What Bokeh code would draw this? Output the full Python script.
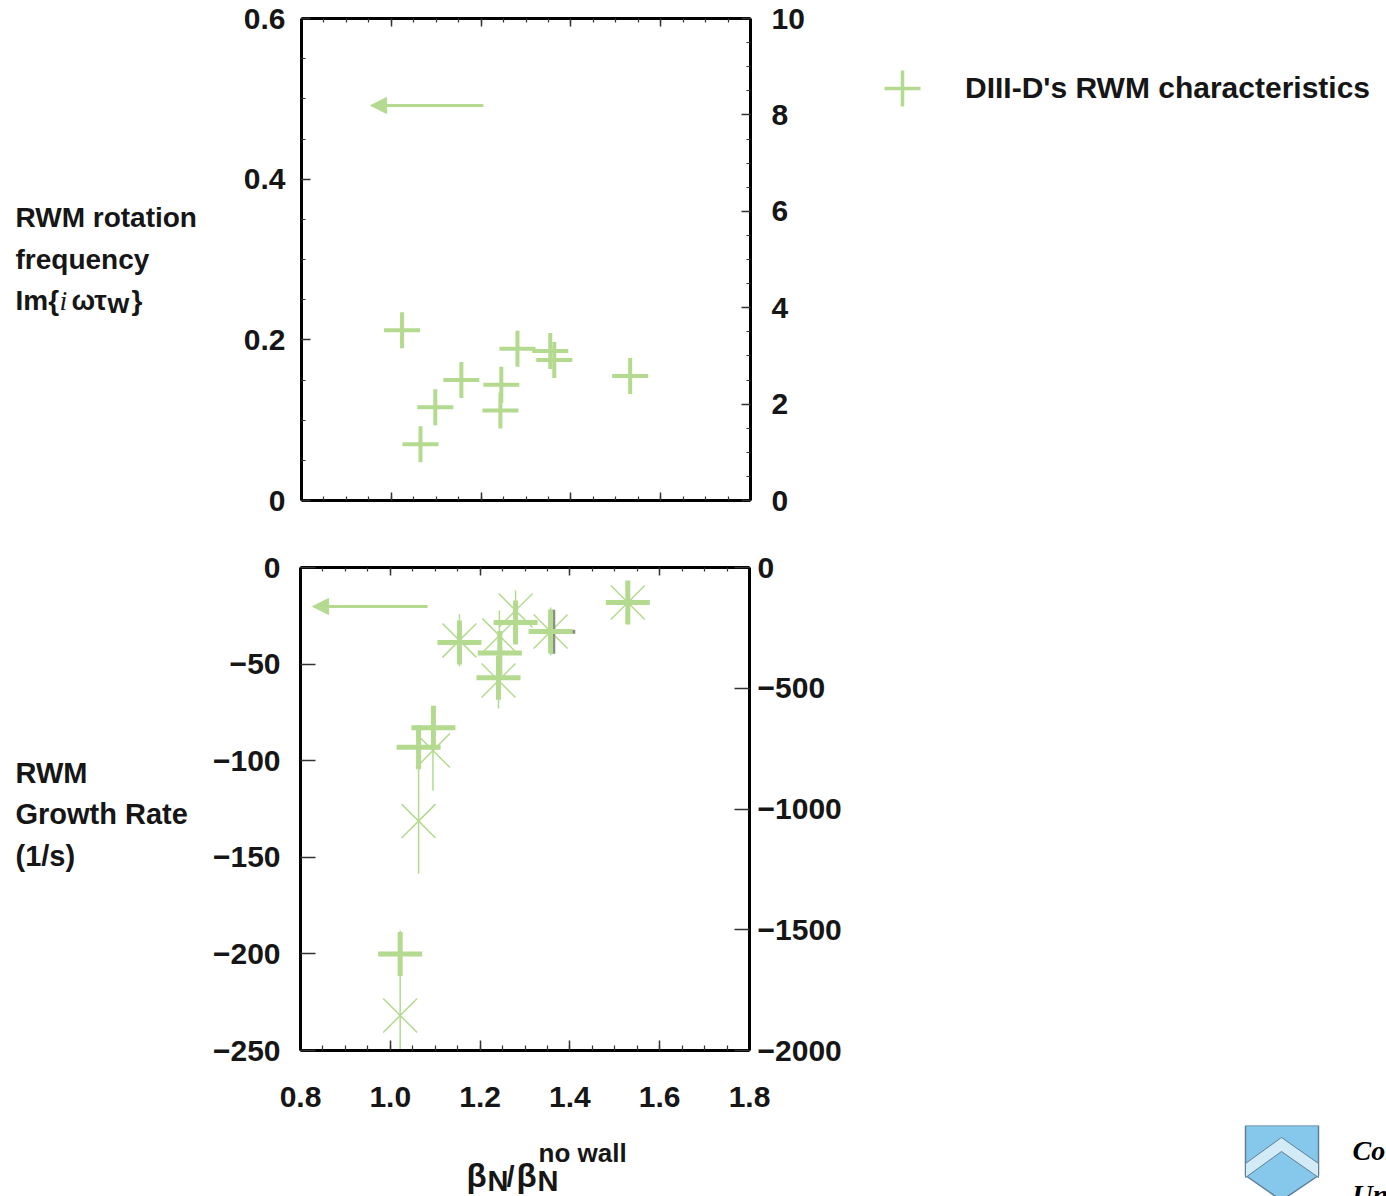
from bokeh.plotting import figure
from bokeh.models import (LinearAxis, Range1d, FixedTicker, Legend, LegendItem,
                          Arrow, NormalHead, CustomJSTickFormatter)
from bokeh.layouts import column, row
from bokeh.core.properties import value
from bokeh.embed import file_html
from bokeh.resources import INLINE

GREEN = "#b3da8f"
TEXT = "#161616"
FONT = "'Liberation Sans', Arial, sans-serif"
SERIF = "'Liberation Serif', serif"

# ---- data: top panel (RWM rotation frequency, left axis units) ----
freq_x = [1.024, 1.065, 1.098, 1.156, 1.245, 1.243, 1.281, 1.354, 1.363, 1.532]
freq_y = [0.212, 0.070, 0.116, 0.150, 0.144, 0.112, 0.189, 0.186, 0.175, 0.155]

# ---- data: bottom panel ----
growth_x = [1.154, 1.279, 1.244, 1.241, 1.357, 1.529, 1.096, 1.063, 1.022]
growth_y = [-38.8, -28.5, -44.2, -57.1, -33.1, -18.1, -83.0, -93.0, -200.0]

rate_x = [1.154, 1.279, 1.243, 1.241, 1.357, 1.529, 1.095, 1.063, 1.022]
rate_y = [-302, -178, -282, -468, -265, -145, -758, -1050, -1855]
rate_err = [108, 83, 104, 116, 99, 87, 166, 218, 352]

gray_x = [1.363]
gray_y = [-33.3]

# arrows (data coords)
top_arrow = dict(x_start=1.205, x_end=0.954, y=0.4917)
bot_arrow = dict(x_start=1.083, x_end=0.827, y=-20.2)

x_ticks = [0.8, 1.0, 1.2, 1.4, 1.6, 1.8]
x_minor = [round(0.8 + 0.05 * i, 2) for i in range(21)]
top_left_ticks = [0, 0.2, 0.4, 0.6]
top_left_minor = [round(0.05 * i, 2) for i in range(13)]
top_right_ticks = [0, 2, 4, 6, 8, 10]
top_right_minor = [0.5 * i for i in range(21)]
bot_left_ticks = [-250, -200, -150, -100, -50, 0]
bot_right_ticks = [-2000, -1500, -1000, -500, 0]

legend_label = "DIII-D's RWM characteristics"

num_fmt = CustomJSTickFormatter(code="""
if (tick == 0) return '0';
var s = Math.abs(tick) < 1 ? Math.abs(tick).toFixed(1) : String(Math.abs(tick));
return (tick < 0 ? '\u2212' : '') + s;""")
x_fmt = CustomJSTickFormatter(code="return tick.toFixed(1);")
blank_fmt = CustomJSTickFormatter(code="return '';")


def style_axis(ax, ticks, minor, fmt, standoff, major_in, minor_in, show=True):
    ax.ticker = FixedTicker(ticks=ticks, minor_ticks=minor)
    ax.formatter = fmt
    ax.axis_line_width = 3
    ax.axis_line_color = "black"
    ax.major_tick_in = major_in
    ax.major_tick_out = 0
    ax.minor_tick_in = minor_in
    ax.minor_tick_out = 0
    ax.major_tick_line_width = 1.5
    ax.minor_tick_line_width = 1.2
    ax.major_tick_line_color = "#333333"
    ax.minor_tick_line_color = "#333333"
    ax.major_label_standoff = standoff
    ax.major_label_text_font = FONT
    ax.major_label_text_font_style = "bold"
    ax.major_label_text_color = TEXT
    ax.major_label_text_font_size = "30px" if show else "1px"
    if not show:
        ax.major_label_text_alpha = 0
        ax.major_label_standoff = 0


def blank_fig(x0, w, h, top, bottom, page_top):
    """Axis-less figure whose frame maps page pixels (y downwards).
    top/bottom borders match the neighbouring plot (frames in a row are aligned)."""
    f_top = page_top + top
    f_bot = page_top + h - bottom
    f = figure(width=w, height=h, x_range=Range1d(x0, x0 + w), y_range=Range1d(f_bot, f_top),
               output_backend="svg", toolbar_location=None,
               x_axis_location=None, y_axis_location=None,
               min_border_left=0, min_border_right=0, min_border_top=top, min_border_bottom=bottom)
    f.outline_line_color = None
    f.grid.visible = False
    return f


def put_text(f, x, y, s, size, style="bold", font=FONT, color=TEXT):
    f.text(x=[x], y=[y], text=[s], text_font=value(font), text_font_size=value(size),
           text_font_style=style, text_color=color, text_baseline="middle", text_align="left")


# ================= row 1 =================
L1 = blank_fig(0, 225, 535, 18, 35, 0)
put_text(L1, 15, 217, "RWM rotation", "28px")
put_text(L1, 15, 259, "frequency", "28px")
put_text(L1, 15, 300, "Im{", "28px")
put_text(L1, 59, 300, "i", "28px", style="italic", font=SERIF)
put_text(L1, 71, 300, "ωτ", "28px")
put_text(L1, 107, 303, "w", "28px")
put_text(L1, 131, 300, "}", "28px")

p1 = figure(width=595, height=535, x_range=Range1d(0.8, 1.8), y_range=Range1d(0, 0.6),
            output_backend="svg", toolbar_location=None,
            x_axis_location=None, y_axis_location=None,
            min_border_left=76, min_border_right=70, min_border_top=18, min_border_bottom=35)
p1.extra_y_ranges = {"right": Range1d(0, 10)}
p1.outline_line_color = None
p1.grid.visible = False

ax = LinearAxis(); style_axis(ax, top_left_ticks, top_left_minor, num_fmt, 16, 9, 4); p1.add_layout(ax, "left")
ax = LinearAxis(y_range_name="right"); style_axis(ax, top_right_ticks, top_right_minor, num_fmt, 21, 9, 4); p1.add_layout(ax, "right")
ax = LinearAxis(); style_axis(ax, x_ticks, x_minor, blank_fmt, 0, 8, 4, show=False); p1.add_layout(ax, "below")
ax = LinearAxis(); style_axis(ax, x_ticks, x_minor, blank_fmt, 0, 8, 4, show=False); p1.add_layout(ax, "above")

p1.scatter(freq_x, freq_y, marker="cross", size=36, line_width=4, line_color=GREEN)
p1.add_layout(Arrow(end=NormalHead(size=16, fill_color=GREEN, line_color=GREEN, line_width=1),
                    x_start=top_arrow["x_start"], y_start=top_arrow["y"],
                    x_end=top_arrow["x_end"], y_end=top_arrow["y"],
                    line_color=GREEN, line_width=3))

R1 = blank_fig(820, 566, 535, 18, 35, 0)
# legend key renderer (its single point lies outside the visible range)
r_leg = R1.scatter(x=[0], y=[-1000], marker="cross", size=36, line_width=3.5, line_color=GREEN)
legend = Legend(items=[LegendItem(label=legend_label, renderers=[r_leg])],
                location=(37, 367), glyph_width=90, glyph_height=90, label_standoff=18,
                padding=0, margin=0, border_line_color=None, background_fill_alpha=0,
                label_text_font=FONT, label_text_font_size="30px", label_text_font_style="bold",
                label_text_color=TEXT)
R1.add_layout(legend)

# ================= row 2 =================
L2 = blank_fig(0, 205, 590, 32, 75, 535)
put_text(L2, 15, 772, "RWM", "29px")
put_text(L2, 15, 813, "Growth Rate", "29px")
put_text(L2, 15, 855, "(1/s)", "29px")

p2 = figure(width=655, height=590, x_range=Range1d(0.8, 1.8), y_range=Range1d(-250, 0),
            output_backend="svg", toolbar_location=None,
            x_axis_location=None, y_axis_location=None,
            min_border_left=95, min_border_right=111, min_border_top=32, min_border_bottom=75)
p2.extra_y_ranges = {"right": Range1d(-2000, 0)}
p2.outline_line_color = None
p2.grid.visible = False

ax = LinearAxis(); style_axis(ax, bot_left_ticks, [], num_fmt, 20, 15, 0); p2.add_layout(ax, "left")
ax = LinearAxis(y_range_name="right"); style_axis(ax, bot_right_ticks, [], num_fmt, 8, 15, 0); p2.add_layout(ax, "right")
ax = LinearAxis(); style_axis(ax, x_ticks, x_minor, x_fmt, 36, 10, 5); p2.add_layout(ax, "below")
ax = LinearAxis(); style_axis(ax, x_ticks, x_minor, blank_fmt, 0, 8, 4, show=False); p2.add_layout(ax, "above")

p2.segment(x0=rate_x, x1=rate_x,
           y0=[y - e for y, e in zip(rate_y, rate_err)],
           y1=[y + e for y, e in zip(rate_y, rate_err)],
           y_range_name="right", line_color=GREEN, line_width=1.5)
p2.scatter(rate_x, rate_y, y_range_name="right", marker="x", size=48, line_width=1.5, line_color=GREEN)
p2.scatter(gray_x, gray_y, marker="cross", size=44, line_width=4, line_color="#8a8a8a")
p2.scatter(growth_x, growth_y, marker="cross", size=44, line_width=5, line_color=GREEN)

p2.add_layout(Arrow(end=NormalHead(size=16, fill_color=GREEN, line_color=GREEN, line_width=1),
                    x_start=bot_arrow["x_start"], y_start=bot_arrow["y"],
                    x_end=bot_arrow["x_end"], y_end=bot_arrow["y"],
                    line_color=GREEN, line_width=3))

# ================= row 3: x-axis title and logo =================
B3 = blank_fig(0, 1386, 71, 0, 0, 1125)
put_text(B3, 466, 1175, "β", "33px")
put_text(B3, 487, 1180, "N", "29px")
put_text(B3, 506, 1176, "/", "29px")
put_text(B3, 516, 1175, "β", "33px")
put_text(B3, 537, 1180, "N", "29px")
put_text(B3, 538, 1152, "no wall", "26px")

# Columbia University logo (partial, cut at the corner)
B3.patch(x=[1245, 1318, 1318, 1281, 1245], y=[1125, 1125, 1175, 1200, 1175],
         fill_color="#86c8ec", line_color="#5f7f95", line_width=1.5)
B3.patch(x=[1245, 1281, 1318, 1318, 1281, 1245], y=[1163, 1137, 1163, 1177, 1151, 1177],
         fill_color="#d3ebf7", line_color="#5f7f95", line_width=1)
put_text(B3, 1352, 1150, "Columbia", "28px", style="bold italic", font=SERIF, color="black")
put_text(B3, 1352, 1194, "University", "28px", style="bold italic", font=SERIF, color="black")

layout = column(row(L1, p1, R1, spacing=0), row(L2, p2, spacing=0), B3, spacing=0)
open("out.html", "w").write(file_html(layout, INLINE))
